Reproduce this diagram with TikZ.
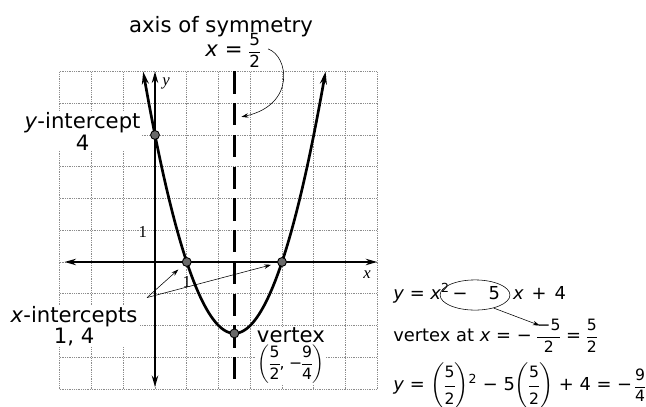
\documentclass[tikz,border=0pt]{standalone}
\usepackage{amsmath}
\usepackage{fontspec}
\setmainfont{DejaVu Sans}
\newfontfamily\tickfont{Liberation Serif}
\usepackage{tikz}
\usetikzlibrary{arrows.meta, positioning, shapes.geometric}
\definecolor{gridgray}{RGB}{140,140,140}
\definecolor{dotgray}{RGB}{105,105,105}
\setlength{\nulldelimiterspace}{0pt}
\newcommand{\fr}[2]{\ensuremath{\genfrac{}{}{0.5pt}{0}{\text{#1}}{\text{#2}}}}
\newcommand{\sfr}[2]{{\fontsize{14}{14}\selectfont\fr{#1}{#2}}}
\newcommand{\pfr}[2]{\ensuremath{\left(\sfr{#1}{#2}\right)}}
\newcommand{\va}[1]{\textit{#1}}

\begin{document}
\begin{tikzpicture}[
  font=\fontsize{19}{19}\selectfont,
  lbl/.style={fill=white, inner sep=1pt, align=center},
  eqn/.style={anchor=base west, inner sep=0pt, font=\fontsize{16}{16}\selectfont},
  tick/.style={inner sep=0pt, font=\tickfont\fontsize{15}{15}\selectfont},
  curve/.style={line width=2.4pt, {Stealth[length=4mm, width=2.2mm]}-{Stealth[length=4mm, width=2.2mm]}},
  axisline/.style={line width=2pt, {Stealth[length=3.6mm, width=2mm]}-{Stealth[length=3.6mm, width=2mm]}},
  pt/.style={circle, draw, fill=dotgray, line width=0.8pt, minimum size=2.8mm, inner sep=0pt},
  arr/.style={-{Stealth[length=2.2mm, width=1.4mm]}, line width=0.5pt}
]
  \useasboundingbox[fill=white] (-4.882,-4.567) rectangle (15.465,8.252);
  % grid
  \draw[gridgray, densely dotted, line width=0.6pt] (-3,-4) grid (7,6);

  % labels on the graph
  \node[lbl] (yint) at (-2.28,4.11) {\va{y}-intercept\\4};
  \node[lbl] (xint) at (-2.55,-2.02) {\va{x}-intercepts\\1, 4};
  \node[lbl] (vtx) at (4.28,-2.95)
    {vertex\\[1pt]{\fontsize{14}{14}\selectfont$\left(\fr{5}{2}\text{,}\;\text{−}\fr{9}{4}\right)$}};

  % axes
  \draw[axisline] (-2.85,0) -- (7,0);
  \draw[axisline] (0,6) -- (0,-3.94);
  \node[tick] (ylbl) at (0.35,5.62) {\itshape y};
  \node[tick] (xlbl) at (6.68,-0.41) {\itshape x};
  \node[tick] (yone) at (-0.38,0.94) {1};
  \node[tick] (xone) at (1.0,-0.62) {1};

  % axis of symmetry
  \draw[line width=2.6pt, dash pattern=on 0.7cm off 0.3cm] (2.5,6) -- (2.5,-3.72);

  % parabola
  \draw[curve] plot[domain=-0.372:5.372, samples=80, smooth] (\x,{\x*\x-5*\x+4});

  \node[pt] (py) at (0,4) {};
  \node[pt] (p1) at (1,0) {};
  \node[pt] (p4) at (4,0) {};
  \node[pt] (pv) at (2.5,-2.25) {};

  % title and its arrow
  \node[anchor=base] (axis) at (2.08,7.24) {axis of symmetry};
  \node (axeq) at (2.45,6.66) {\va{x} = {\fontsize{15}{15}\selectfont\fr{5}{2}}};
  \coordinate (cfrom) at (3.56,6.71);
  \coordinate (cto) at (2.72,4.57);
  \draw[arr] (cfrom) .. controls (4.2,6.5) and (4.45,4.95) .. (cto);

  \coordinate (xfrom) at (-0.25,-1.12);
  \draw[arr, shorten >=2mm] (xfrom) -- (p1);
  \draw[arr, shorten >=2mm] (xfrom) -- (p4);

  % working on the right
  \node[eqn] (eq1a) at (7.5,-1.18) {\va{y} = \va{x}\textsuperscript{2}};
  \node[eqn] (eq1m) at (eq1a.base east) {\hspace{0.08cm}−\hspace{0.66cm}5};
  \node[eqn] (eq1b) at (eq1m.base east) {\hspace{0.4cm}\va{x}\hspace{0.25cm}+\hspace{0.25cm}4};
  \node[ellipse, draw, line width=0.5pt, inner sep=0pt,
    minimum width=2.2cm, minimum height=0.95cm] (circ) at (10.08,-1.04) {};
  \node[eqn] (eq2) at (7.5,-2.5)
    {vertex at \va{x} = − \sfr{−5}{2} = \sfr{5}{2}};
  \node[eqn] (eq3) at (7.5,-4.06)
    {\va{y} = \pfr{5}{2}\textsuperscript{2} − 5\pfr{5}{2} + 4 = −\,\sfr{9}{4}};
  \coordinate (numtip) at (12.12,-2.0);
  \draw[arr] (circ.-35) -- (numtip);
\end{tikzpicture}
\end{document}
